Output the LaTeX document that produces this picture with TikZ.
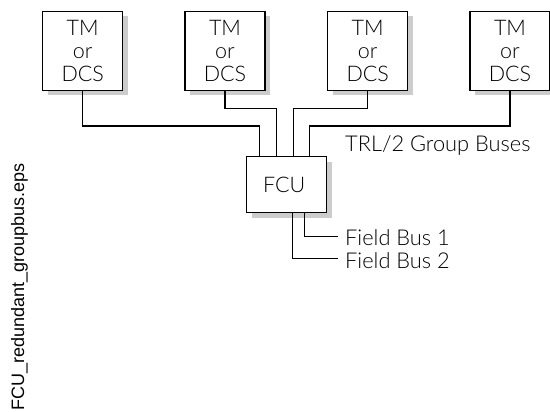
\documentclass[tikz,border=0pt]{standalone}
\usepackage{fontspec}
\setmainfont{Lato Light}
\newfontfamily\capfont{Liberation Sans}
\usetikzlibrary{shadows}
\begin{document}
\begin{tikzpicture}[x=1pt,y=-1pt,
  boxshadow/.style={drop shadow={shadow xshift=5pt,shadow yshift=-5pt,fill=black!20,opacity=1}},
  tmbox/.style={draw,line width=1.5pt,fill=white,minimum width=80pt,minimum height=79pt,
     inner sep=0pt,align=center,font=\fontsize{21.5}{23.3}\selectfont,boxshadow},
  fcubox/.style={draw,line width=1.5pt,fill=white,minimum width=80pt,minimum height=56pt,
     inner sep=0pt,font=\fontsize{21.5}{24}\selectfont,boxshadow},
  bus/.style={line width=1.3pt},
  lbl/.style={anchor=base west,inner sep=0pt,font=\fontsize{21.8}{22}\selectfont}]
\useasboundingbox (0,0) rectangle (550,412);
\node[tmbox] (tm1) at (82.7,51) {TM\\or\\DCS};
\node[tmbox] (tm2) at (225,51) {TM\\or\\DCS};
\node[tmbox] (tm3) at (367.7,51) {TM\\or\\DCS};
\node[tmbox] (tm4) at (510,51) {TM\\or\\DCS};
\node[fcubox] (fcu) at (286.7,184.7) {\hspace*{-5pt}FCU};
% group bus bends and entries
\coordinate (b1) at (259.3,126);
\coordinate (b2) at (276.7,108.3);
\coordinate (b3) at (293.3,108.3);
\coordinate (b4) at (309.3,126);
\draw[bus] (tm1.south) |- (b1) -- (b1 |- fcu.north);
\draw[bus] (tm2.south) |- (b2) -- (b2 |- fcu.north);
\draw[bus] (tm3.south) |- (b3) -- (b3 |- fcu.north);
\draw[bus] (tm4.south) |- (b4) -- (b4 |- fcu.north);
\node[lbl] (trl) at (345,151.5) {TRL/2 Group Buses};
% field buses
\coordinate (f1) at (304.3,236.7);
\coordinate (f2) at (292.7,258.5);
\coordinate (e1) at (338.3,236.7);
\coordinate (e2) at (338.3,258.5);
\draw[bus] (f1 |- fcu.south) -- (f1) -- (e1);
\draw[bus] (f2 |- fcu.south) -- (f2) -- (e2);
\node[lbl] (fb1) at (345,246) {Field Bus 1};
\node[lbl] (fb2) at (345,269) {Field Bus 2};
\node[rotate=90,anchor=base west,inner sep=0pt,font=\capfont\fontsize{18}{20}\selectfont] (cap) at (24,411) {FCU\_redundant\_groupbus.eps};
\end{tikzpicture}
\end{document}
